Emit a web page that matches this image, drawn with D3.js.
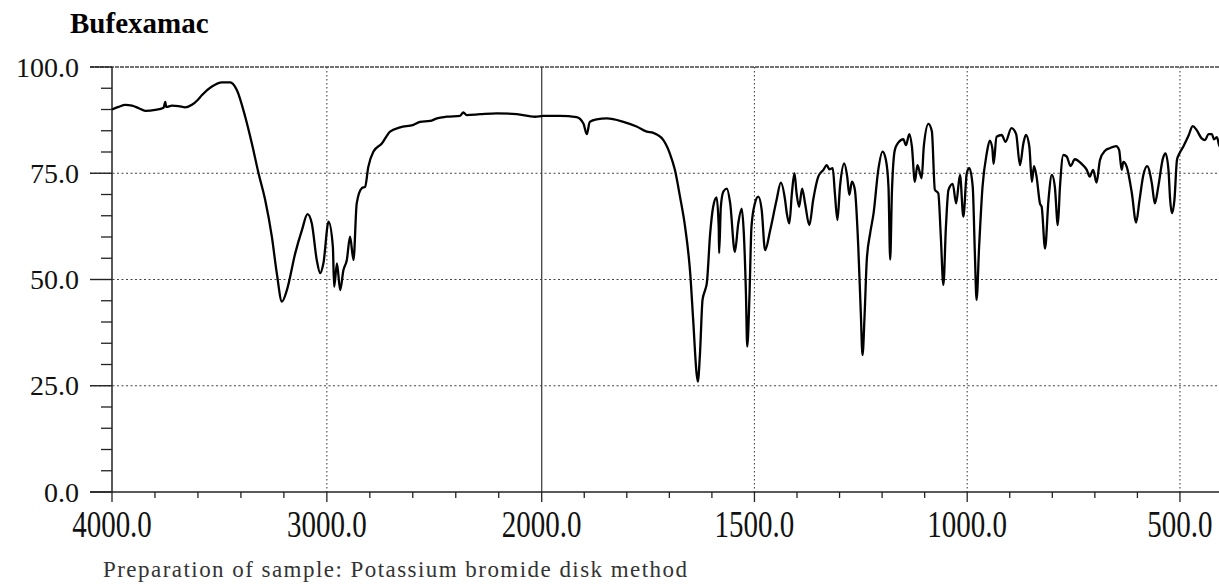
<!DOCTYPE html>
<html>
<head>
<meta charset="utf-8">
<script src="https://cdn.jsdelivr.net/npm/d3@7"></script>
<style>
  body { margin: 0; background: #fff; }
  svg { display: block; }
  text { font-family: "Liberation Serif", "Times New Roman", serif; }
</style>
</head>
<body>
<svg id="chart"></svg>
<script>
// IR spectrum of Bufexamac
const title = "Bufexamac";
const footnote = "Preparation of sample: Potassium bromide disk method";

const xTickValues = [4000, 3000, 2000, 1500, 1000, 500];
const yTickValues = [0, 25, 50, 75, 100];

const wavenumber = [
  4000, 3970, 3938, 3907, 3875, 3845, 3799, 3760, 3752, 3748, 3721, 3690, 3659, 3628, 3600, 3581,
  3535, 3488, 3450, 3419, 3380, 3349, 3318, 3287, 3256, 3233, 3209, 3186, 3147, 3116, 3090, 3070,
  3047, 3031, 3016, 2992, 2972, 2966, 2953, 2938, 2923, 2907, 2892, 2876, 2861, 2837, 2822, 2807,
  2783, 2744, 2706, 2659, 2597, 2566, 2520, 2488, 2442, 2380, 2365, 2349, 2287, 2209, 2116, 2031,
  1996, 1957, 1918, 1902, 1894, 1887, 1871, 1847, 1808, 1777, 1753, 1738, 1714, 1699, 1687, 1675,
  1663, 1651, 1644, 1636, 1633, 1628, 1622, 1616, 1612, 1604, 1597, 1589, 1584, 1583, 1579, 1573,
  1565, 1557, 1546, 1538, 1530, 1525, 1520, 1517, 1512, 1507, 1499, 1491, 1483, 1475, 1463, 1448,
  1438, 1428, 1424, 1418, 1412, 1406, 1401, 1395, 1388, 1381, 1371, 1362, 1350, 1338, 1330, 1324,
  1316, 1311, 1305, 1299, 1289, 1282, 1277, 1271, 1264, 1256, 1250, 1246, 1241, 1236, 1228, 1220,
  1209, 1199, 1191, 1185, 1181, 1177, 1170, 1162, 1150, 1144, 1136, 1130, 1123, 1117, 1113, 1107,
  1102, 1091, 1083, 1076, 1068, 1062, 1056, 1050, 1044, 1034, 1026, 1017, 1009, 1001, 995, 987,
  982, 978, 972, 964, 954, 947, 941, 938, 931, 919, 910, 896, 885, 876, 868, 862,
  854, 848, 843, 837, 829, 825, 817, 809, 801, 794, 787, 782, 774, 766, 757, 747,
  731, 719, 712, 704, 696, 688, 676, 665, 650, 643, 637, 633, 625, 613, 603, 595,
  586, 577, 566, 559, 551, 540, 534, 527, 523, 519, 513, 507, 501, 492, 480, 470,
  461, 449, 441, 433, 425, 420, 413, 408, 400
];
const transmittance = [
  90.0, 90.6, 91.1, 90.9, 90.3, 89.7, 89.9, 90.4, 91.8, 90.6, 90.9, 90.8, 90.5, 91.1, 92.3, 93.4,
  95.4, 96.4, 96.4, 94.6, 88.3, 82.0, 75.0, 68.7, 60.1, 51.5, 44.8, 47.5, 56.2, 61.6, 65.4, 63.2,
  54.6, 51.5, 53.8, 63.6, 57.7, 48.3, 53.8, 47.5, 52.2, 54.6, 60.1, 54.6, 67.9, 71.5, 71.8, 76.5,
  80.1, 82.0, 84.8, 85.8, 86.4, 87.1, 87.3, 87.9, 88.3, 88.5, 89.3, 88.7, 88.9, 89.1, 88.9, 88.3,
  88.5, 88.5, 88.2, 86.7, 84.2, 87.1, 87.7, 87.9, 87.1, 86.0, 84.8, 84.5, 82.8, 79.7, 75.8, 69.5,
  62.4, 51.5, 40.5, 27.9, 26.0, 32.6, 45.2, 47.5, 49.1, 60.9, 67.1, 69.3, 62.4, 56.2, 67.1, 70.7,
  71.4, 67.9, 56.5, 63.2, 66.7, 60.9, 46.7, 34.2, 45.2, 62.4, 67.9, 69.5, 66.4, 56.9, 61.6, 68.7,
  72.8, 68.7, 65.6, 63.2, 70.3, 75.0, 70.3, 67.1, 71.4, 67.9, 62.8, 68.7, 74.2, 75.8, 76.9, 75.9,
  76.2, 70.3, 64.0, 71.8, 77.3, 74.2, 69.9, 73.0, 71.1, 57.7, 42.0, 32.2, 42.0, 54.6, 60.9, 65.6,
  75.8, 80.1, 78.1, 71.8, 54.7, 70.3, 80.5, 82.2, 83.0, 81.6, 84.2, 81.3, 73.0, 76.9, 75.8, 73.8,
  81.3, 86.6, 84.8, 71.1, 70.3, 60.1, 48.7, 62.4, 71.1, 72.5, 67.9, 74.6, 64.8, 75.0, 76.2, 71.8,
  56.2, 45.2, 57.7, 71.8, 79.7, 82.7, 80.9, 77.2, 83.6, 84.0, 82.4, 85.6, 84.2, 76.9, 82.0, 84.0,
  81.3, 73.0, 76.7, 74.2, 67.9, 67.1, 57.3, 68.7, 74.6, 71.8, 62.8, 71.8, 79.3, 78.9, 76.7, 78.3,
  77.2, 75.8, 74.2, 75.8, 72.8, 78.1, 80.3, 80.9, 81.4, 80.5, 75.8, 77.7, 76.5, 70.3, 63.4, 68.7,
  74.6, 76.7, 72.6, 67.9, 71.8, 78.5, 79.7, 75.8, 68.7, 65.6, 68.7, 78.1, 79.7, 81.3, 83.8, 86.1,
  85.2, 83.2, 82.8, 84.2, 84.2, 83.0, 83.5, 81.6, 80.5
];

const width = 1219, height = 584;
const svg = d3.select("#chart").attr("width", width).attr("height", height);

// scale changes at 2000 cm-1 (double expansion below)
const x = d3.scaleLinear().domain([4000, 2000, 400]).range([112, 541.7, 1222.5]);
const y = d3.scaleLinear().domain([0, 100]).range([492, 67]);

const gridColor = "#444";

// horizontal grid (dotted) and the 100 line
svg.append("g").selectAll("line")
  .data(yTickValues.filter(d => d > 0))
  .enter().append("line")
  .attr("x1", 90).attr("x2", width)
  .attr("y1", d => y(d)).attr("y2", d => y(d))
  .attr("stroke", gridColor)
  .attr("stroke-width", d => d == 100 ? 1.4 : 1.1)
  .attr("stroke-dasharray", d => d == 100 ? "4,1" : "2,2.5");

// vertical grid
svg.append("g").selectAll("line")
  .data(xTickValues.filter(d => d != 4000))
  .enter().append("line")
  .attr("x1", d => x(d)).attr("x2", d => x(d))
  .attr("y1", y(100)).attr("y2", y(0))
  .attr("stroke", gridColor)
  .attr("stroke-width", d => d == 2000 ? 1.3 : 1.1)
  .attr("stroke-dasharray", d => d == 2000 ? null : "1.5,2.5");

// left axis line + ticks
svg.append("line")
  .attr("x1", x(4000)).attr("x2", x(4000))
  .attr("y1", y(100)).attr("y2", y(0))
  .attr("stroke", "#222").attr("stroke-width", 1.5);

const yMinor = d3.range(0, 101, 5).filter(d => d % 25 != 0);
svg.append("g").selectAll("line")
  .data(yMinor)
  .enter().append("line")
  .attr("x1", 101).attr("x2", x(4000))
  .attr("y1", d => y(d)).attr("y2", d => y(d))
  .attr("stroke", "#222").attr("stroke-width", 1.3);

svg.append("g").selectAll("line")
  .data(yTickValues)
  .enter().append("line")
  .attr("x1", 90).attr("x2", x(4000))
  .attr("y1", d => y(d)).attr("y2", d => y(d))
  .attr("stroke", "#222").attr("stroke-width", 1.4);

// bottom axis
svg.append("line")
  .attr("x1", 90).attr("x2", width)
  .attr("y1", y(0)).attr("y2", y(0))
  .attr("stroke", "#222").attr("stroke-width", 1.5);

const xMinor = d3.range(4000, 2000, -200).concat(d3.range(2000, 399, -100))
  .filter(d => xTickValues.indexOf(d) < 0);
svg.append("g").selectAll("line")
  .data(xMinor)
  .enter().append("line")
  .attr("x1", d => x(d)).attr("x2", d => x(d))
  .attr("y1", y(0)).attr("y2", y(0) + 6)
  .attr("stroke", "#222").attr("stroke-width", 1.3);

svg.append("g").selectAll("line")
  .data(xTickValues)
  .enter().append("line")
  .attr("x1", d => x(d)).attr("x2", d => x(d))
  .attr("y1", y(0)).attr("y2", y(0) + 10)
  .attr("stroke", "#222").attr("stroke-width", 1.3);

// tick labels
svg.append("g").selectAll("text")
  .data(yTickValues)
  .enter().append("text")
  .attr("x", 79).attr("y", d => y(d) + 9.5)
  .attr("text-anchor", "end")
  .style("font-size", "28px")
  .attr("fill", "#111")
  .text(d => d.toFixed(1));

svg.append("g").selectAll("text")
  .data(xTickValues)
  .enter().append("text")
  .attr("transform", d => "translate(" + x(d) + ",537) scale(1,1.28)")
  .attr("text-anchor", "middle")
  .style("font-size", "29px")
  .attr("fill", "#111")
  .text(d => d.toFixed(1));

// spectrum
const pts = wavenumber.map((w, i) => [w, transmittance[i]]);
const line = d3.line()
  .x(d => x(d[0]))
  .y(d => y(d[1]))
  .curve(d3.curveMonotoneX);

svg.append("path")
  .datum(pts)
  .attr("d", line)
  .attr("fill", "none")
  .attr("stroke", "#000")
  .attr("stroke-width", 2.3)
  .attr("stroke-linejoin", "round");

// title + note
svg.append("text")
  .attr("x", 70).attr("y", 33)
  .style("font-size", "29px").style("font-weight", "bold")
  .text(title);

svg.append("text")
  .attr("x", 103).attr("y", 577)
  .style("font-size", "23px")
  .attr("fill", "#333")
  .attr("textLength", 584).attr("lengthAdjust", "spacing")
  .text(footnote);
</script>
</body>
</html>
